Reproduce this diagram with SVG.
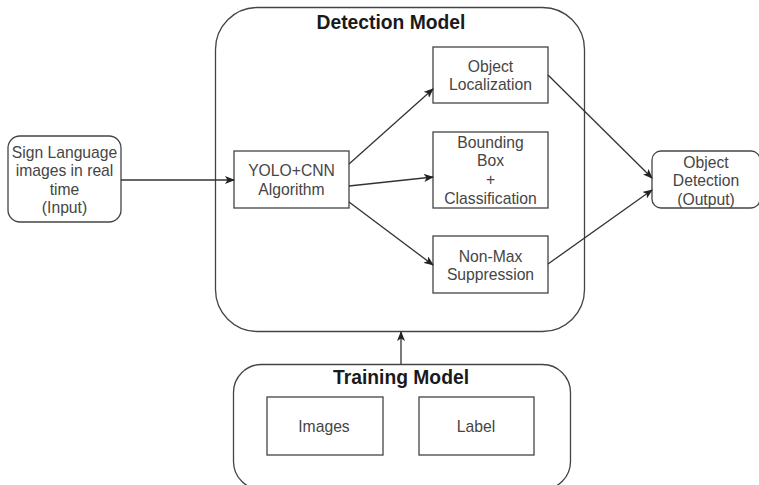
<svg xmlns="http://www.w3.org/2000/svg" width="759" height="485" viewBox="0 0 759 485">
<style>
.box{fill:#fff;stroke:#444;stroke-width:1.3}
.t{font-family:"Liberation Sans",Arial,sans-serif;font-size:15.7px;fill:#454545;text-anchor:middle}
.h{font-family:"Liberation Sans",Arial,sans-serif;font-size:19.3px;font-weight:bold;fill:#1a1a1a;text-anchor:middle}
.c{fill:none;stroke:#333;stroke-width:1.3}
</style>
<defs>
<marker id="arr" markerWidth="10" markerHeight="8" refX="9" refY="4" orient="auto" markerUnits="userSpaceOnUse">
<path d="M0,0 L10,4 L0,8 L2.5,4 Z" fill="#222"/>
</marker>
</defs>
<rect width="759" height="485" fill="#fff"/>
<g id="detection-model">
<rect class="box" x="215.5" y="7.5" width="369" height="324" rx="42"/>
<text class="h" x="391" y="28.5">Detection Model</text>
</g>
<g id="training-model">
<rect class="box" x="233.5" y="364.5" width="337" height="125" rx="28"/>
<text class="h" x="401" y="383.5">Training Model</text>
</g>
<g id="input">
<rect class="box" x="8" y="136" width="113" height="86" rx="12"/>
<text class="t" x="64.5" y="157.5">Sign Language</text>
<text class="t" x="64.5" y="176">images in real</text>
<text class="t" x="64.5" y="194.5">time</text>
<text class="t" x="64.5" y="213">(Input)</text>
</g>
<g id="yolo">
<rect class="box" x="234" y="151" width="115" height="57"/>
<text class="t" x="291.5" y="175.5">YOLO+CNN</text>
<text class="t" x="291.5" y="194.5">Algorithm</text>
</g>
<g id="localization">
<rect class="box" x="433" y="47" width="115" height="56"/>
<text class="t" x="490.5" y="71.5">Object</text>
<text class="t" x="490.5" y="90">Localization</text>
</g>
<g id="bounding">
<rect class="box" x="433" y="132" width="115" height="76"/>
<text class="t" x="490.5" y="147.5">Bounding</text>
<text class="t" x="490.5" y="166">Box</text>
<text class="t" x="490.5" y="184.5">+</text>
<text class="t" x="490.5" y="203.5">Classification</text>
</g>
<g id="nonmax">
<rect class="box" x="433" y="236" width="115" height="57"/>
<text class="t" x="490.5" y="261.5">Non-Max</text>
<text class="t" x="490.5" y="280">Suppression</text>
</g>
<g id="output">
<rect class="box" x="652" y="151" width="108" height="57" rx="9"/>
<text class="t" x="706" y="167.5">Object</text>
<text class="t" x="706" y="186">Detection</text>
<text class="t" x="706" y="204.5">(Output)</text>
</g>
<g id="images">
<rect class="box" x="267" y="397" width="116" height="58"/>
<text class="t" x="324" y="432">Images</text>
</g>
<g id="label">
<rect class="box" x="419" y="397" width="115" height="58"/>
<text class="t" x="476" y="432">Label</text>
</g>
<g id="connectors">
<line class="c" x1="121" y1="180" x2="234" y2="180" marker-end="url(#arr)"/>
<line class="c" x1="349" y1="164" x2="433" y2="89" marker-end="url(#arr)"/>
<line class="c" x1="349" y1="186" x2="433" y2="177" marker-end="url(#arr)"/>
<line class="c" x1="349" y1="202" x2="433" y2="265" marker-end="url(#arr)"/>
<line class="c" x1="548" y1="75" x2="652" y2="178" marker-end="url(#arr)"/>
<line class="c" x1="548" y1="264" x2="652" y2="190" marker-end="url(#arr)"/>
<line class="c" x1="401" y1="364" x2="401" y2="332" marker-end="url(#arr)"/>
</g>
</svg>
